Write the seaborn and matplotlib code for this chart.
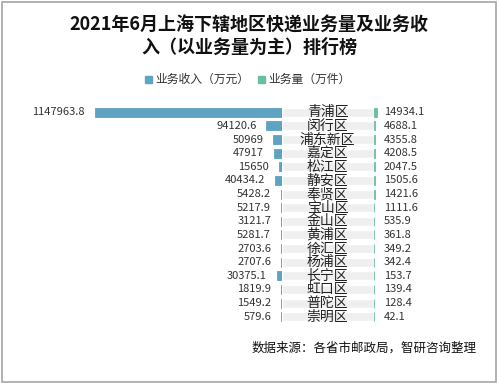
import matplotlib
matplotlib.use("Agg")
import matplotlib.pyplot as plt
import seaborn as sns
import pandas as pd
from matplotlib.patches import Rectangle

# data
districts = ["青浦区", "闵行区", "浦东新区", "嘉定区", "松江区", "静安区", "奉贤区", "宝山区",
             "金山区", "黄浦区", "徐汇区", "杨浦区", "长宁区", "虹口区", "普陀区", "崇明区"]
revenue = [1147963.8, 94120.6, 50969, 47917, 15650, 40434.2, 5428.2, 5217.9,
           3121.7, 5281.7, 2703.6, 2707.6, 30375.1, 1819.9, 1549.2, 579.6]
volume = [14934.1, 4688.1, 4355.8, 4208.5, 2047.5, 1505.6, 1421.6, 1111.6,
          535.9, 361.8, 349.2, 342.4, 153.7, 139.4, 128.4, 42.1]

BLUE = "#5fa3c3"
GREEN = "#66c0a0"
BAND = "#efefef"

sns.set_theme(style="white")
plt.rcParams['font.family'] = ['Noto Sans CJK SC', 'DejaVu Sans']

W, H = 498, 383
fig = plt.figure(figsize=(W / 100, H / 100), dpi=100)

df = pd.DataFrame({"district": districts, "revenue": revenue, "volume": volume})
n = len(districts)

row_h = (316.7 - 112.3) / (n - 1)
top_px = 112.3 - row_h / 2
span_px = row_h * n
px_per_val = 1147963.8 / 187.0


def axes_px(x0, x1):
    return fig.add_axes([x0 / W, (H - top_px - span_px) / H, (x1 - x0) / W, span_px / H])


def fmt(v):
    return ('%.1f' % v).rstrip('0').rstrip('.')


def clean(ax):
    ax.set_xticks([])
    ax.set_yticks([])
    ax.set_xlabel("")
    ax.set_ylabel("")
    for s in ax.spines.values():
        s.set_visible(False)
    ax.set_facecolor("none")


# left: revenue, growing leftwards
axl = axes_px(8, 281.5)
sns.barplot(data=df, y="district", x="revenue", color=BLUE, saturation=1,
            width=0.66, orient="h", ax=axl, edgecolor=BLUE, linewidth=0.6)
axl.set_xlim((281.5 - 8) * px_per_val, 0)
axl.set_ylim(n - 0.5, -0.5)
for i, v in enumerate(revenue):
    axl.annotate(fmt(v), (v, i), xytext=(-7, 0), textcoords="offset points",
                 ha="right", va="center", fontsize=8, color="#333333")
clean(axl)

# middle: district names on a grey band
axm = axes_px(281.5, 373.5)
sns.barplot(y=districts, x=[1] * n, color=BAND, saturation=1, width=0.66,
            orient="h", ax=axm)
axm.set_xlim(0, 1)
axm.set_ylim(n - 0.5, -0.5)
for i, d in enumerate(districts):
    axm.text(0.5, i, d, ha="center", va="center", fontsize=10, color="#222222")
clean(axm)

# right: volume, same scale as revenue
axr = axes_px(374.3, 490)
sns.barplot(data=df, y="district", x="volume", color=GREEN, saturation=1,
            width=0.66, orient="h", ax=axr, edgecolor=GREEN, linewidth=0.6)
axr.set_xlim(0, (490 - 374.3) * px_per_val)
axr.set_ylim(n - 0.5, -0.5)
for i, v in enumerate(volume):
    axr.annotate(fmt(v), (0, i), xytext=(7, 0), textcoords="offset points",
                 ha="left", va="center", fontsize=8, color="#333333")
clean(axr)

# title
fig.text(249 / W, 1 - 25 / H, "2021年6月上海下辖地区快递业务量及业务收",
         ha="center", va="center", fontsize=13, fontweight="bold", color="#111111")
fig.text(249 / W, 1 - 47 / H, "入（以业务量为主）排行榜",
         ha="center", va="center", fontsize=13, fontweight="bold", color="#111111")

# legend
fig.patches.append(Rectangle((145 / W, 1 - 82.5 / H), 6.5 / W, 6.5 / H,
                             transform=fig.transFigure, color=BLUE))
fig.text(155 / W, 1 - 79.5 / H, "业务收入（万元）", ha="left", va="center",
         fontsize=8.5, color="#333333")
fig.patches.append(Rectangle((258 / W, 1 - 82.5 / H), 6.5 / W, 6.5 / H,
                             transform=fig.transFigure, color=GREEN))
fig.text(268 / W, 1 - 79.5 / H, "业务量（万件）", ha="left", va="center",
         fontsize=8.5, color="#333333")

# source
fig.text(252 / W, 1 - 348 / H, "数据来源：各省市邮政局，智研咨询整理", ha="left",
         va="center", fontsize=9, color="#111111")

# outer frame
fig.patches.append(Rectangle((1.5 / W, 1.5 / H), (W - 3.5) / W, (H - 3.5) / H,
                             transform=fig.transFigure, fill=False,
                             edgecolor="#a6a6a6", linewidth=1.2))

fig.savefig("out.png", dpi=100)
